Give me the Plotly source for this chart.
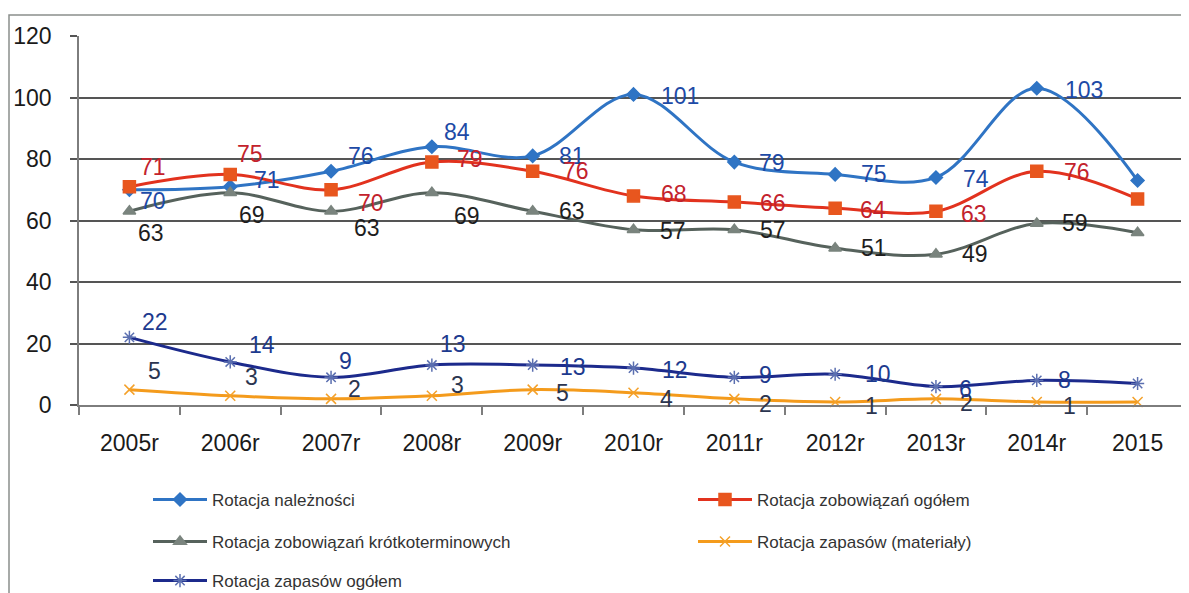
import plotly.graph_objects as go

categories = ["2005r", "2006r", "2007r", "2008r", "2009r", "2010r", "2011r", "2012r", "2013r", "2014r", "2015"]

rot_naleznosci = [70, 71, 76, 84, 81, 101, 79, 75, 74, 103, 73]
rot_zob_ogolem = [71, 75, 70, 79, 76, 68, 66, 64, 63, 76, 67]
rot_zob_krotko = [63, 69, 63, 69, 63, 57, 57, 51, 49, 59, 56]
rot_zap_mater = [5, 3, 2, 3, 5, 4, 2, 1, 2, 1, 1]
rot_zap_ogolem = [22, 14, 9, 13, 13, 12, 9, 10, 6, 8, 7]

names = [
    "Rotacja należności",
    "Rotacja zobowiązań ogółem",
    "Rotacja zobowiązań krótkoterminowych",
    "Rotacja zapasów (materiały)",
    "Rotacja zapasów ogółem",
]

series = [rot_naleznosci, rot_zob_ogolem, rot_zob_krotko, rot_zap_mater, rot_zap_ogolem]

# styles
line_colors = ["#2f74c4", "#e2321e", "#56625c", "#f49b1c", "#1c2a8c"]
marker_colors = ["#2f74c4", "#e8561e", "#7a847e", "#f4a12a", "#5b6fb0"]
marker_symbols = ["diamond", "square", "triangle-up", "x-thin-open", "asterisk-open"]
marker_sizes = [10, 12, 11, 10, 11]
label_colors = ["#1d4aa6", "#c3222c", "#1e1e1e", "#2b3550", "#1d3a8e"]

# legend placement (page pixels: item origin x, row centre y)
legend_px = [(148, 500), (693, 500), (148, 542), (693, 542), (148, 581)]

# label offsets (px): dx to left edge of text, dy of text centre (up positive)
label_dx = [
    [9, 22, 15, 10, 24, 25, 23, 24, 25, 26, 23],
    [9, 5, 25, 23, 28, 25, 24, 23, 23, 25, 23],
    [7, 7, 21, 20, 24, 24, 24, 24, 24, 23, 25],
    [17, 13, 15, 17, 21, 24, 23, 28, 22, 24, 26],
    [11, 17, 6, 6, 25, 26, 23, 28, 21, 19, 19],
]
label_dy = [
    [-11, 7, 15, 15, 0, -2, -1, 0, -2, -2, 1],
    [20, 20, -13, 3, 0, 2, -1, -2, -3, -1, -1],
    [-22, -22, -17, -23, 0, -1, 0, 0, 0, 1, 0],
    [19, 19, 10, 11, -3, -6, -5, -4, -4, -4, -4],
    [15, 17, 16, 21, -2, -2, 2, 0, -2, 0, 2],
]

# the page puts the figure 8px in from the top-left corner
OFF = 8
W, H = 1189 - OFF, 593 - OFF
L, R, T, B = 79 - OFF, 1, 36 - OFF, 188
pw = W - L - R
ph = H - T - B

FONT = "Liberation Sans, Arial, sans-serif"

fig = go.Figure()
annotations = []
legends = {}
for i, vals in enumerate(series):
    lid = "legend" if i == 0 else "legend%d" % (i + 1)
    fig.add_trace(go.Scatter(
        x=categories, y=vals, name=names[i], mode="lines+markers",
        line=dict(color=line_colors[i], width=3, shape="spline", smoothing=1.0),
        marker=dict(symbol=marker_symbols[i], size=marker_sizes[i], color=marker_colors[i],
                    line=dict(color=marker_colors[i], width=1.5)),
        cliponaxis=False, legend=lid,
    ))
    lx, ly = legend_px[i]
    legends[lid] = dict(
        orientation="h", xref="container", yref="container",
        x=(lx - OFF) / W, xanchor="left",
        y=1 - (ly - OFF) / H, yanchor="middle",
        itemwidth=54, borderwidth=0, bgcolor="rgba(0,0,0,0)",
        font=dict(family=FONT, size=17, color="#333333"),
    )
    for j, v in enumerate(vals):
        annotations.append(dict(
            x=categories[j], y=v, xref="x", yref="y", text=str(v), showarrow=False,
            xanchor="left", yanchor="middle", xshift=label_dx[i][j], yshift=label_dy[i][j],
            font=dict(family=FONT, size=23, color=label_colors[i]),
        ))

shapes = [dict(
    type="rect", xref="paper", yref="paper",
    x0=(9 - OFF - L) / pw, x1=(W + 10 - L) / pw,
    y0=-(H + 10 - T - ph) / ph, y1=1 + (T - (15 - OFF)) / ph,
    line=dict(color="#8a8f8c", width=1.5), layer="below",
)]

fig.update_layout(
    width=W, height=H,
    margin=dict(l=L, r=R, t=T, b=B, autoexpand=False),
    paper_bgcolor="white", plot_bgcolor="white",
    font=dict(family=FONT, color="#1a1a1a"),
    annotations=annotations,
    shapes=shapes,
    showlegend=True,
    **legends,
    xaxis=dict(
        type="category", range=[-0.5, 10.5], showgrid=False,
        showline=True, linecolor="#7d7d7d", linewidth=1.5,
        ticks="outside", tickson="boundaries", ticklen=8, tickcolor="#7d7d7d", tickwidth=1.5,
        tickfont=dict(size=23, color="#1a1a1a"), ticklabelstandoff=17,
    ),
    yaxis=dict(
        range=[0, 120], dtick=20, showgrid=True, gridcolor="#555555", gridwidth=1.5,
        showline=True, linecolor="#7d7d7d", linewidth=1.5,
        ticks="outside", ticklen=7, tickcolor="#555555", tickwidth=1.5,
        tickfont=dict(size=23, color="#1a1a1a"), ticklabelstandoff=14,
        zeroline=False,
    ),
)

fig.write_html("out.html")
